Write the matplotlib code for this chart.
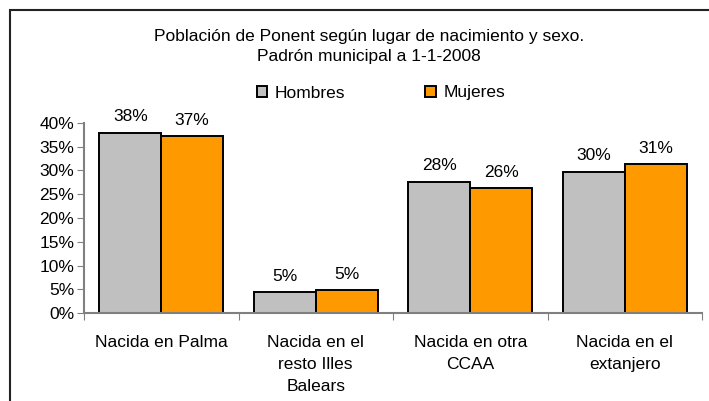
import numpy as np
import matplotlib.pyplot as plt
from matplotlib.patches import Rectangle

# Población de Ponent por lugar de nacimiento y sexo (%)
categorias = ["Nacida en Palma", "Nacida en el\nresto Illes\nBalears",
              "Nacida en otra\nCCAA", "Nacida en el\nextanjero"]
hombres = [37.9, 4.5, 27.6, 29.7]
mujeres = [37.2, 4.9, 26.3, 31.3]
etiquetas_h = ["38%", "5%", "28%", "30%"]
etiquetas_m = ["37%", "5%", "26%", "31%"]
yticks = [0, 5, 10, 15, 20, 25, 30, 35, 40]

plt.rcParams['font.family'] = ['Liberation Sans', 'DejaVu Sans']
fs = 12.5

fig = plt.figure(figsize=(7.09, 4.01), dpi=100)
ax = fig.add_axes([84/709, 87.7/401, 618/709, 190.6/401])

# marco exterior
fig.patches.append(Rectangle((10/709, -0.1), 1.2, 1 - 10/401 + 0.1,
                             transform=fig.transFigure, fill=False,
                             edgecolor="#222222", lw=1.5, zorder=0))

x = np.arange(len(categorias))
w = 0.4
b1 = ax.bar(x - w/2, hombres, w, color="#C0C0C0", edgecolor="black", lw=1.4, label="Hombres")
b2 = ax.bar(x + w/2, mujeres, w, color="#FF9900", edgecolor="black", lw=1.4, label="Mujeres")

for bars, labs in ((b1, etiquetas_h), (b2, etiquetas_m)):
    for b, t in zip(bars, labs):
        ax.annotate(t, (b.get_x() + b.get_width()/2, b.get_height()),
                    xytext=(0, 6), textcoords="offset points",
                    ha="center", va="bottom", fontsize=fs)

ax.set_xlim(-0.5, len(categorias) - 0.5)
ax.set_ylim(0, 40)
ax.set_yticks(yticks)
ax.set_yticklabels([f"{v}%" for v in yticks], fontsize=fs)
ax.set_xticks(np.arange(len(categorias) + 1) - 0.5)
ax.set_xticklabels([])
ax.set_xticks(x, minor=True)
ax.set_xticklabels(categorias, minor=True, fontsize=fs, linespacing=1.6)
ax.tick_params(axis="x", which="minor", length=0, pad=15.5)
ax.tick_params(axis="x", which="major", length=5, color="#808080", direction="out")
ax.tick_params(axis="y", length=5, color="#808080", pad=2)
for s in ("top", "right"):
    ax.spines[s].set_visible(False)
for s in ("left", "bottom"):
    ax.spines[s].set_color("#808080")
    ax.spines[s].set_linewidth(1.5)

fig.text(369/709, 1 - 46.5/401, "Población de Ponent según lugar de nacimiento y sexo.\nPadrón municipal a 1-1-2008",
         ha="center", va="center", fontsize=fs, linespacing=1.5)

fig.legend(handles=[b1, b2], loc="center", bbox_to_anchor=(381/709, 1 - 93/401),
           ncol=2, frameon=False, fontsize=fs, handlelength=0.6, handleheight=0.6,
           handletextpad=0.45, columnspacing=4.6)

fig.savefig("out.png", dpi=100)
